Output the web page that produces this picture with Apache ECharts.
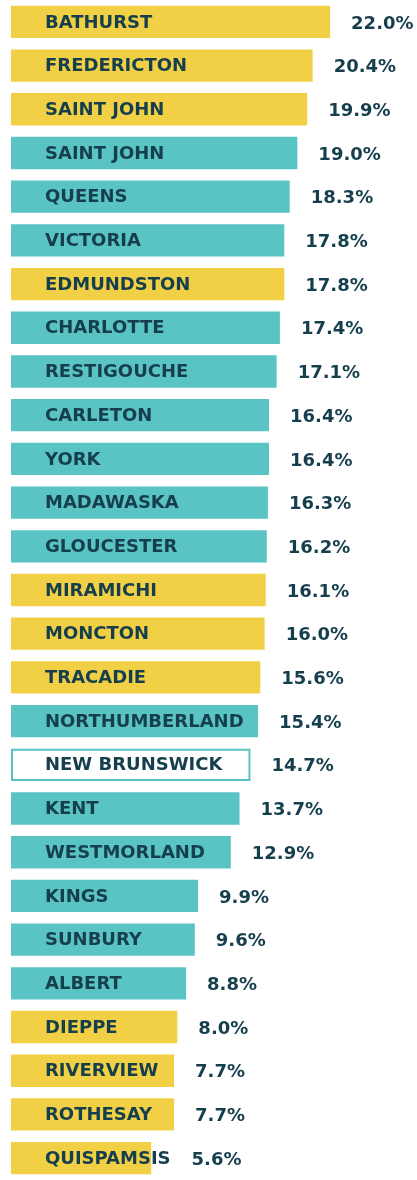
<!DOCTYPE html>
<html>
<head>
<meta charset="utf-8">
<script src="https://cdn.jsdelivr.net/npm/echarts@6/dist/echarts.min.js"></script>
<style>
html,body{margin:0;padding:0;background:#fff;}
#chart{width:417px;height:1180px;}
</style>
</head>
<body>
<div id="chart"></div>
<script>
// ---- data ----
const categories = ["BATHURST","FREDERICTON","SAINT JOHN","SAINT JOHN","QUEENS","VICTORIA","EDMUNDSTON","CHARLOTTE","RESTIGOUCHE","CARLETON","YORK","MADAWASKA","GLOUCESTER","MIRAMICHI","MONCTON","TRACADIE","NORTHUMBERLAND","NEW BRUNSWICK","KENT","WESTMORLAND","KINGS","SUNBURY","ALBERT","DIEPPE","RIVERVIEW","ROTHESAY","QUISPAMSIS"];
const values = [22.0,20.4,19.9,19.0,18.3,17.8,17.8,17.4,17.1,16.4,16.4,16.3,16.2,16.1,16.0,15.6,15.4,14.7,13.7,12.9,9.9,9.6,8.8,8.0,7.7,7.7,5.6];
const kinds = ["city","city","city","county","county","county","city","county","county","county","county","county","county","city","city","city","county","province","county","county","county","county","county","city","city","city","city"];

// ---- styles ----
const COLORS = {city:"#F2D045", county:"#5AC4C4", province:"#FFFFFF"};
const TEXT = "#163F4E";
const FONT = 'bold 18px "DejaVu Sans"';
const AX_MIN = -7.25, AX_MAX = 29.875;

const measure = (function(){
  const c = document.createElement('canvas').getContext('2d');
  c.font = FONT;
  return t => c.measureText(t).width;
})();

const chart = echarts.init(document.getElementById('chart'), null, {renderer:'canvas'});
chart.setOption({
  animation:false,
  grid:{left:11, top:0, width:405, height:1191},
  xAxis:{type:'value', min:AX_MIN, max:AX_MAX, show:false},
  yAxis:{type:'category', data:categories, inverse:true, show:false},
  series:[{
    type:'custom',
    clip:false,
    data: values.map((v,i)=>[v,i]),
    encode:{x:0,y:1},
    renderItem:function(params, api){
      const i = api.value(1);
      const v = api.value(0);
      const end = api.coord([v, i]);
      const start = api.coord([AX_MIN, i]);
      const band = api.size([0,1])[1];
      const h = band*0.74;
      const kind = kinds[i];
      const labelX = start[0] + 34;
      const labelEnd = labelX + measure(categories[i]);
      const valX = Math.max(end[0], labelEnd) + 21;
      const rectStyle = kind === 'province'
        ? {fill:'#FFFFFF', stroke:COLORS.county, lineWidth:2}
        : {fill:COLORS[kind]};
      const rectShape = kind === 'province'
        ? {x:start[0]+1, y:end[1]-h/2+1, width:end[0]-start[0]-2, height:h-2}
        : {x:start[0], y:end[1]-h/2, width:end[0]-start[0], height:h};
      return {
        type:'group',
        children:[
          {type:'rect', shape:rectShape, style:rectStyle},
          {type:'text', style:{text:categories[i], x:labelX, y:end[1]+1, fill:TEXT, font:FONT, align:'left', verticalAlign:'middle'}},
          {type:'text', style:{text:v.toFixed(1)+'%', x:valX, y:end[1]+2, fill:TEXT, font:FONT, align:'left', verticalAlign:'middle'}}
        ]
      };
    }
  }]
});
</script>
</body>
</html>
